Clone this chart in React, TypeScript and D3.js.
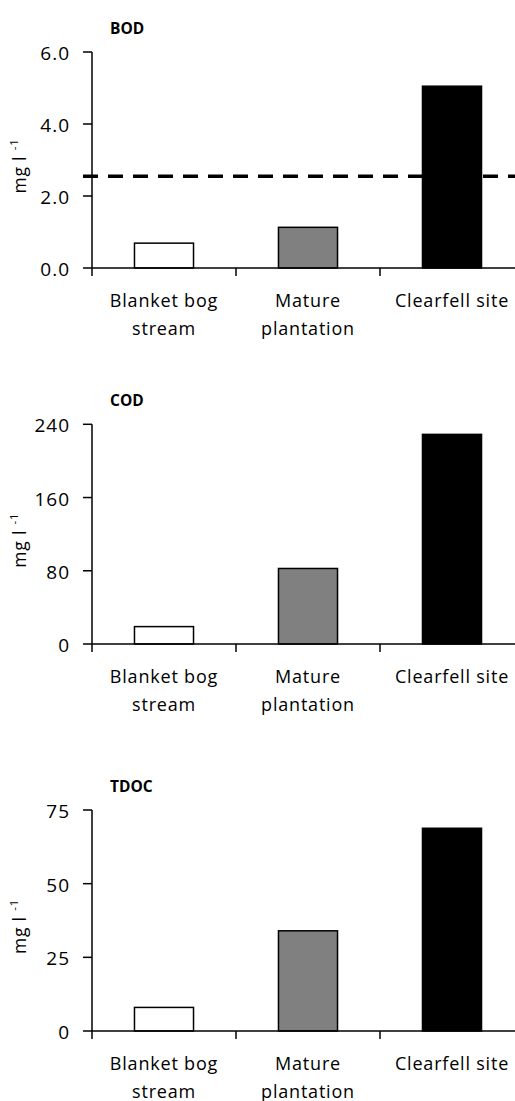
import React from "react";
import * as d3 from "d3";

const categoryLines: string[][] = [["Blanket bog", "stream"], ["Mature", "plantation"], ["Clearfell site"]];
const categories = ["Blanket bog stream", "Mature plantation", "Clearfell site"];
const barFills = ["#ffffff", "#808080", "#000000"];

const bodValues = [0.69, 1.13, 5.05];
const codValues = [19, 82.5, 229];
const tdocValues = [8, 34, 68.8];

const bodTicks = [0, 2, 4, 6];
const codTicks = [0, 80, 160, 240];
const tdocTicks = [0, 25, 50, 75];

const bodThreshold = 2.55;

const W = 515;
const H = 1101;
const AXIS_X = 92;
const FONT = "'Open Sans', 'Noto Sans', sans-serif";

type PanelProps = {
  title: string;
  values: number[];
  ticks: number[];
  fmt: (v: number) => string;
  y0: number;
  yTop: number;
  threshold?: number;
};

function Panel({ title, values, ticks, fmt, y0, yTop, threshold }: PanelProps) {
  const y = d3.scaleLinear().domain([0, ticks[ticks.length - 1]]).range([y0, yTop]);
  const band = d3.scaleBand<string>().domain(categories).range([AXIS_X, AXIS_X + 3 * 144]).padding(0);
  const barBand = d3
    .scaleBand<string>()
    .domain(categories)
    .range([AXIS_X, AXIS_X + 3 * 144])
    .paddingInner(0.59)
    .paddingOuter(0.295);
  const mid = (y0 + yTop) / 2;
  return (
    <g>
      <text x={110} y={yTop - 18} fontFamily={FONT} fontWeight="bold" fontSize={15.5} fill="#000">
        {title}
      </text>
      {/* y label */}
      <text
        transform={`translate(25.5,${mid + 6}) rotate(-90)`}
        textAnchor="middle"
        fontFamily={FONT}
        fontSize={17.5}
        fill="#000"
        letterSpacing={0.8}
      >
        mg l <tspan fontSize={11.5} dy={-7.5}>-1</tspan>
      </text>
      {/* bars */}
      {values.map((v, i) => (
        <rect
          key={i}
          x={barBand(categories[i])}
          y={y(v)}
          width={barBand.bandwidth()}
          height={y0 - y(v)}
          fill={barFills[i]}
          stroke="#000"
          strokeWidth={1.5}
        />
      ))}
      {threshold !== undefined && (
        <line
          x1={83}
          x2={W}
          y1={y(threshold)}
          y2={y(threshold)}
          stroke="#000"
          strokeWidth={3.5}
          strokeDasharray="15 10"
        />
      )}
      {/* y axis */}
      <line x1={AXIS_X} x2={AXIS_X} y1={yTop} y2={y0} stroke="#000" strokeWidth={1.5} />
      {ticks.map((t) => (
        <g key={t}>
          <line x1={83} x2={AXIS_X} y1={y(t)} y2={y(t)} stroke="#000" strokeWidth={1.5} />
          <text
            x={70}
            y={y(t)}
            dy={8}
            textAnchor="end"
            fontFamily={FONT}
            fontSize={19}
            letterSpacing={1}
            fill="#000"
          >
            {fmt(t)}
          </text>
        </g>
      ))}
      {/* x axis */}
      <line x1={AXIS_X} x2={W} y1={y0} y2={y0} stroke="#000" strokeWidth={1.5} />
      {categories.map((c) => (
        <line key={c} x1={band(c)} x2={band(c)} y1={y0} y2={y0 + 8} stroke="#000" strokeWidth={1.5} />
      ))}
      {categories.map((c, i) => (
        <text
          key={c}
          x={(band(c) as number) + band.bandwidth() / 2}
          y={y0 + 38.7}
          textAnchor="middle"
          fontFamily={FONT}
          fontSize={18}
          letterSpacing={0.8}
          fill="#000"
        >
          {categoryLines[i].map((ln, j) => (
            <tspan key={j} x={(band(c) as number) + band.bandwidth() / 2} dy={j === 0 ? 0 : 28.3}>
              {ln}
            </tspan>
          ))}
        </text>
      ))}
    </g>
  );
}

export default function App() {
  const f1 = d3.format(".1f");
  const f0 = d3.format("d");
  return (
    <svg
      width={W}
      height={H}
      viewBox={`0 0 ${W} ${H}`}
      style={{ position: "absolute", left: 0, top: 0, display: "block", background: "#fff" }}
    >
      <rect x={0} y={0} width={W} height={H} fill="#fff" />
      <Panel title="BOD" values={bodValues} ticks={bodTicks} fmt={f1} y0={268} yTop={52} threshold={bodThreshold} />
      <Panel title="COD" values={codValues} ticks={codTicks} fmt={f0} y0={644} yTop={424.3} />
      <Panel title="TDOC" values={tdocValues} ticks={tdocTicks} fmt={f0} y0={1031} yTop={810} />
    </svg>
  );
}
